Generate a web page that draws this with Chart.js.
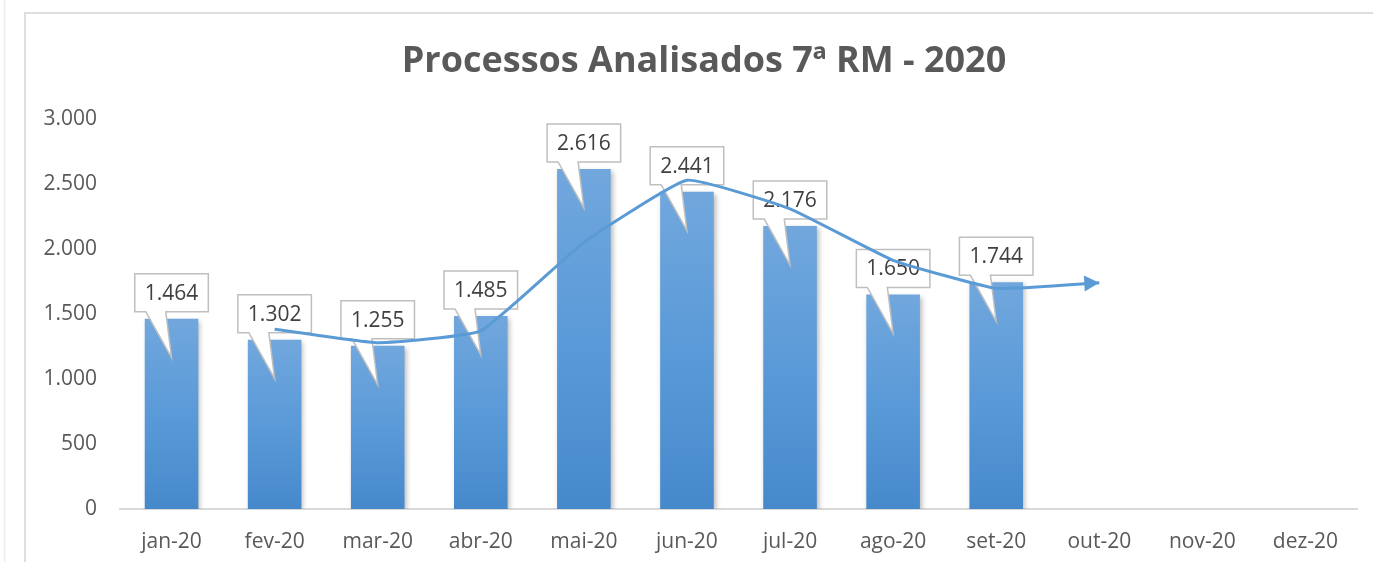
<!DOCTYPE html>
<html>
<head>
<meta charset="utf-8">
<title>Processos Analisados 7ª RM - 2020</title>
<script src="https://cdn.jsdelivr.net/npm/chart.js@4.4.1/dist/chart.umd.min.js"></script>
<style>
    html, body{margin:0; padding:0; background:#fff; overflow:hidden;}
    #grafico{position:relative; width:1373px; height:562px;}
</style>
</head>
<body>
<div id="grafico">
    <canvas id="myChart" width="1373" height="562" style="width:1373px;height:562px;"></canvas>
</div>

<script>
    // dados
    var meses = ['jan-20', 'fev-20', 'mar-20', 'abr-20', 'mai-20', 'jun-20', 'jul-20', 'ago-20', 'set-20', 'out-20', 'nov-20', 'dez-20'];
    var processos = [1464, 1302, 1255, 1485, 2616, 2441, 2176, 1650, 1744, null, null, null];
    var mediaMovel = [null, 1383, 1279, 1370, 2051, 2529, 2309, 1913, 1697, 1740, null, null];
    var yMin = 0, yMax = 3000, yPasso = 500;
    var titulo = 'Processos Analisados 7ª RM - 2020';

    var fonte = '"Open Sans", "Noto Sans", sans-serif';
    var azul = '#5b9bd5';

    function milhar(v) {
        return String(Math.round(v)).replace(/\B(?=(\d{3})+(?!\d))/g, '.');
    }

    // moldura + titulo
    var moldura = {
        id: 'moldura',
        beforeDraw: function(chart) {
            var ctx = chart.ctx;
            ctx.save();
            ctx.fillStyle = '#fff';
            ctx.fillRect(0, 0, chart.width, chart.height);
            ctx.strokeStyle = '#ebebeb';
            ctx.lineWidth = 1.5;
            ctx.beginPath();
            ctx.moveTo(4.5, 0); ctx.lineTo(4.5, chart.height);
            ctx.stroke();
            ctx.strokeStyle = '#dedede';
            ctx.lineWidth = 2;
            ctx.beginPath();
            ctx.moveTo(25, chart.height); ctx.lineTo(25, 13); ctx.lineTo(chart.width, 13);
            ctx.stroke();
            ctx.fillStyle = '#595959';
            ctx.font = 'bold 36px ' + fonte;
            ctx.textAlign = 'center';
            ctx.textBaseline = 'alphabetic';
            ctx.fillText(titulo, 704, 72);
            ctx.restore();
        }
    };

    // sombra das barras e balões com os valores
    var baloes = {
        id: 'baloes',
        beforeDatasetDraw: function(chart, args) {
            if (args.meta.type !== 'bar') return;
            var ctx = chart.ctx;
            ctx.save();
            ctx.shadowColor = 'rgba(0,0,0,0.28)';
            ctx.shadowBlur = 5;
            ctx.shadowOffsetX = 2;
            ctx.shadowOffsetY = 2;
        },
        afterDatasetDraw: function(chart, args) {
            var ctx = chart.ctx;
            if (args.meta.type !== 'bar') return;
            ctx.restore();
            ctx.save();
            ctx.font = '21px ' + fonte;
            args.meta.data.forEach(function(el, i) {
                var v = processos[i];
                if (v === null) return;
                var txt = milhar(v);
                var w = ctx.measureText(txt).width + 20;
                var h = 38;
                var left = el.x - w / 2;
                var bottom = el.y - 7;
                var top = bottom - h;
                ctx.beginPath();
                ctx.moveTo(left, top);
                ctx.lineTo(left + w, top);
                ctx.lineTo(left + w, bottom);
                ctx.lineTo(left + 31, bottom);
                ctx.lineTo(el.x, el.y + 39);
                ctx.lineTo(left + 11, bottom);
                ctx.lineTo(left, bottom);
                ctx.closePath();
                ctx.fillStyle = '#fff';
                ctx.fill();
                ctx.strokeStyle = '#bfbfbf';
                ctx.lineWidth = 1.5;
                ctx.stroke();
                ctx.fillStyle = '#404040';
                ctx.textAlign = 'center';
                ctx.textBaseline = 'middle';
                ctx.fillText(txt, el.x, top + h / 2 + 1);
            });
            ctx.restore();
        }
    };

    // seta no fim da linha de tendencia
    var seta = {
        id: 'seta',
        afterDatasetDraw: function(chart, args) {
            if (args.meta.type !== 'line') return;
            var pts = args.meta.data.filter(function(p, i) { return mediaMovel[i] !== null; });
            if (pts.length < 2) return;
            var a = pts[pts.length - 2], b = pts[pts.length - 1];
            var ang = Math.atan2(b.y - a.y, b.x - a.x);
            var ctx = chart.ctx;
            ctx.save();
            ctx.translate(b.x, b.y);
            ctx.rotate(ang);
            ctx.beginPath();
            ctx.moveTo(0, 0);
            ctx.lineTo(-15, -8);
            ctx.lineTo(-15, 8);
            ctx.closePath();
            ctx.fillStyle = azul;
            ctx.fill();
            ctx.restore();
        }
    };

    var ctx = document.getElementById('myChart').getContext('2d');
    var myChart = new Chart(ctx, {
        type: 'bar',
        data: {
            labels: meses,
            datasets: [{
                type: 'line',
                data: mediaMovel,
                order: 1,
                borderColor: azul,
                borderWidth: 3,
                pointRadius: 0,
                tension: 0.12,
                fill: false,
                spanGaps: false
            }, {
                type: 'bar',
                data: processos,
                order: 2,
                barPercentage: 0.52,
                categoryPercentage: 1,
                borderWidth: 0,
                backgroundColor: function(c) {
                    var ch = c.chart;
                    if (!ch.chartArea || !ch.scales.y || c.raw == null) return '#5b9bd5';
                    var topo = ch.scales.y.getPixelForValue(c.raw);
                    var base = ch.scales.y.getPixelForValue(0);
                    var g = ch.ctx.createLinearGradient(0, topo, 0, base);
                    g.addColorStop(0, '#71a7dd');
                    g.addColorStop(0.5, '#5a9ad8');
                    g.addColorStop(1, '#4689cb');
                    return g;
                }
            }]
        },
        options: {
            responsive: false,
            animation: false,
            layout: {padding: {left: 30, right: 16, top: 119, bottom: 0}},
            plugins: {
                legend: {display: false},
                title: {display: false},
                tooltip: {enabled: false}
            },
            scales: {
                x: {
                    grid: {display: false, drawTicks: false},
                    border: {display: true, color: '#d9d9d9', width: 2},
                    ticks: {color: '#595959', font: {family: fonte, size: 21}, padding: 20, maxRotation: 0},
                    afterFit: function(s) { s.height = 53; }
                },
                y: {
                    min: yMin,
                    max: yMax,
                    grid: {display: false, drawTicks: false},
                    border: {display: false},
                    ticks: {
                        stepSize: yPasso,
                        color: '#595959',
                        font: {family: fonte, size: 21},
                        padding: 23,
                        callback: function(v) { return milhar(v); }
                    },
                    afterFit: function(s) { s.width = 90; }
                }
            }
        },
        plugins: [moldura, baloes, seta]
    });
</script>
</body>
</html>
